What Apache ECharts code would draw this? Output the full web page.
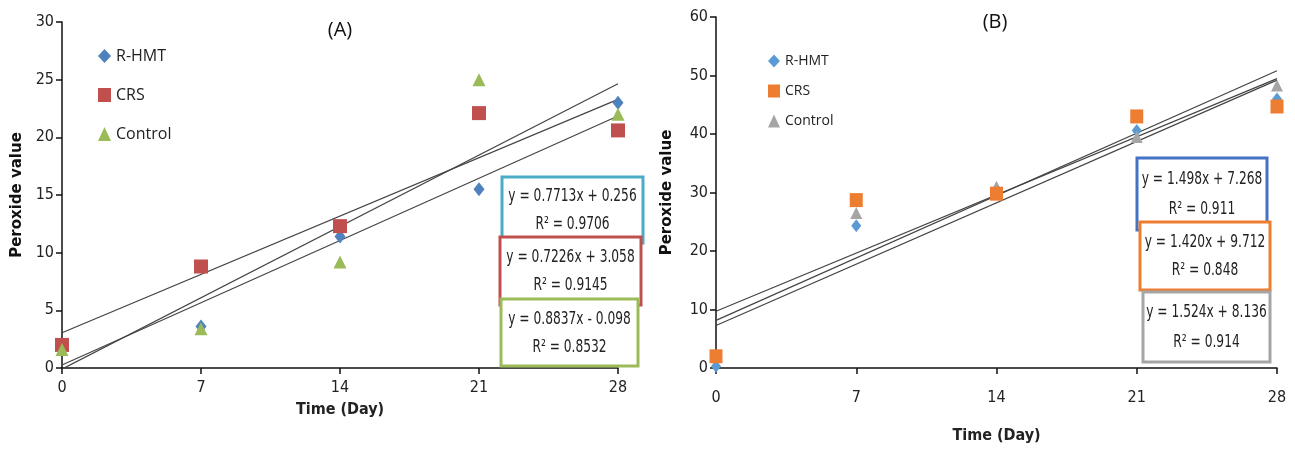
<!DOCTYPE html>
<html>
<head>
<meta charset="utf-8">
<script src="https://cdn.jsdelivr.net/npm/echarts@6/dist/echarts.min.js"></script>
<style>
html,body{margin:0;padding:0;background:#fff;}
#c{width:1295px;height:449px;}
</style>
</head>
<body>
<div id="c"></div>
<script>
// ---------- data ----------
var days = [0, 7, 14, 21, 28];
var xTicks = [0, 7, 14, 21, 28];

// Chart A
var aRHMT = [1.8, 3.6, 11.4, 15.5, 23.0];
var aCRS = [2.0, 8.8, 12.3, 22.1, 20.6];
var aControl = [1.6, 3.4, 9.2, 25.0, 22.0];
var aSlopes = [0.7713, 0.7226, 0.8837];
var aIntercepts = [0.256, 3.058, -0.098];
var aEquations = ['y = 0.7713x + 0.256', 'y = 0.7226x + 3.058', 'y = 0.8837x - 0.098'];
var aR2 = ['R² = 0.9706', 'R² = 0.9145', 'R² = 0.8532'];

// Chart B
var bRHMT = [0.3, 24.3, 30.5, 40.6, 46.0];
var bCRS = [2.0, 28.7, 29.8, 43.0, 44.7];
var bControl = [2.0, 26.5, 31.0, 39.5, 48.3];
var bSlopes = [1.498, 1.420, 1.524];
var bIntercepts = [7.268, 9.712, 8.136];
var bEquations = ['y = 1.498x + 7.268', 'y = 1.420x + 9.712', 'y = 1.524x + 8.136'];
var bR2 = ['R² = 0.911', 'R² = 0.848', 'R² = 0.914'];

var names = ['R-HMT', 'CRS', 'Control'];
// ---------------------------

var NARROW = '"Liberation Sans Narrow","DejaVu Sans Condensed","Liberation Sans",sans-serif';
var colA = ['#4f81bd', '#c0504d', '#9bbb59'];
var colB = ['#5b9bd5', '#ed7d31', '#a5a5a5'];

function pairs(v) { return days.map(function (d, i) { return [d, v[i]]; }); }
function trend(a, b) { return [[days[0], a * days[0] + b], [days[days.length - 1], a * days[days.length - 1] + b]]; }

function xAxis(gi, labelMargin, nameGap) {
  return {
    gridIndex: gi, type: 'value', min: 0, max: 28, interval: 7,
    axisLine: { show: true, onZero: false, lineStyle: { color: '#111', width: 1.5 } },
    axisTick: { show: true, length: 6, lineStyle: { color: '#111', width: 1.5 } },
    axisLabel: { color: '#222', fontSize: 16, fontFamily: NARROW, margin: labelMargin },
    splitLine: { show: false },
    name: 'Time (Day)', nameLocation: 'middle', nameGap: nameGap,
    nameTextStyle: { color: '#222', fontSize: 16, fontWeight: 'bold', fontFamily: NARROW }
  };
}
function yAxis(gi, max, interval, nameGap) {
  return {
    gridIndex: gi, type: 'value', min: 0, max: max, interval: interval,
    axisLine: { show: true, lineStyle: { color: '#111', width: 1.5 } },
    axisTick: { show: true, length: 6, lineStyle: { color: '#111', width: 1.5 } },
    axisLabel: { color: '#222', fontSize: 16, fontFamily: NARROW, margin: 8 },
    splitLine: { show: false },
    name: 'Peroxide value', nameLocation: 'middle', nameGap: nameGap, nameRotate: 90,
    nameTextStyle: { color: '#111', fontSize: 15, fontWeight: 'bold', fontFamily: '"DejaVu Sans",sans-serif' }
  };
}

var symbols = ['diamond', 'rect', 'triangle'];
var sizesA = [[11, 14], [14, 14], [13, 13]];
var series = [];
var dataA = [aRHMT, aCRS, aControl];
var dataB = [bRHMT, bCRS, bControl];

// trend lines
for (var i = 0; i < 3; i++) {
  series.push({ type: 'line', xAxisIndex: 0, yAxisIndex: 0, data: trend(aSlopes[i], aIntercepts[i]),
    symbol: 'none', silent: true, lineStyle: { color: '#444', width: 1.2 }, z: 1 });
  series.push({ type: 'line', xAxisIndex: 1, yAxisIndex: 1, data: trend(bSlopes[i], bIntercepts[i]),
    symbol: 'none', silent: true, lineStyle: { color: '#444', width: 1.2 }, z: 1 });
}
// scatter A
for (var i = 0; i < 3; i++) {
  series.push({ type: 'scatter', name: names[i], xAxisIndex: 0, yAxisIndex: 0, data: pairs(dataA[i]),
    symbol: symbols[i], symbolSize: sizesA[i], itemStyle: { color: colA[i], opacity: 1 }, z: 3 });
}
// scatter B (CRS drawn last)
var orderB = [0, 2, 1];
orderB.forEach(function (i) {
  series.push({ type: 'scatter', name: names[i] + ' ', xAxisIndex: 1, yAxisIndex: 1, data: pairs(dataB[i]),
    symbol: symbols[i], symbolSize: [[10, 13], [13, 14], [12, 12]][i], itemStyle: { color: colB[i], opacity: 1 }, z: 3 });
});

function eqBoxes(boxes, eqs, r2s, colors) {
  var els = [];
  boxes.forEach(function (b, i) {
    els.push({ type: 'rect', shape: { x: b[0], y: b[1], width: b[2], height: b[3] },
      style: { fill: '#fff', stroke: colors[i], lineWidth: 3 }, z: 10 + i });
    els.push({ type: 'text', x: b[0] + b[2] / 2, y: b[1] + b[3] * 0.3, scaleX: 0.8,
      style: { text: eqs[i], fill: '#222', font: '17px ' + NARROW, align: 'center', verticalAlign: 'middle' }, z: 10 + i });
    els.push({ type: 'text', x: b[0] + b[2] / 2, y: b[1] + b[3] * 0.72, scaleX: 0.8,
      style: { text: r2s[i], fill: '#222', font: '17px ' + NARROW, align: 'center', verticalAlign: 'middle' }, z: 10 + i });
  });
  return els;
}

var graphics = [
  { type: 'text', x: 340, y: 30, style: { text: '(A)', fill: '#111', font: '20px "Open Sans",sans-serif', align: 'center', verticalAlign: 'middle' } },
  { type: 'text', x: 995, y: 22, style: { text: '(B)', fill: '#111', font: '20px "Open Sans",sans-serif', align: 'center', verticalAlign: 'middle' } }
].concat(
  eqBoxes([[502, 177, 141, 66], [500, 237, 141, 68], [501, 299, 137, 67]], aEquations, aR2, ['#4bacc6', '#c0504d', '#9bbb59']),
  eqBoxes([[1137, 158, 130, 72], [1140, 222, 130, 68], [1143, 292, 127, 70]], bEquations, bR2, ['#4472c4', '#ed7d31', '#a5a5a5'])
);

var chart = echarts.init(document.getElementById('c'), null, { renderer: 'canvas' });
chart.setOption({
  backgroundColor: '#fff',
  animation: false,
  grid: [
    { left: 62, right: 677, top: 22, bottom: 81 },
    { left: 716, right: 18, top: 17, bottom: 80 }
  ],
  xAxis: [xAxis(0, 12, 34), xAxis(1, 22, 60)],
  yAxis: [yAxis(0, 30, 5, 37), yAxis(1, 60, 10, 41)],
  legend: [
    { orient: 'vertical', left: 93, top: 43, itemGap: 23, itemWidth: 13, itemHeight: 14,
      data: names, textStyle: { color: '#222', fontSize: 16, fontFamily: '"Open Sans",sans-serif' }, selectedMode: false },
    { orient: 'vertical', left: 763, top: 49, itemGap: 16, itemWidth: 12, itemHeight: 13,
      data: names.map(function (n) { return n + ' '; }), textStyle: { color: '#222', fontSize: 14, fontFamily: '"Open Sans",sans-serif' }, selectedMode: false }
  ],
  graphic: graphics,
  series: series
});
</script>
</body>
</html>
